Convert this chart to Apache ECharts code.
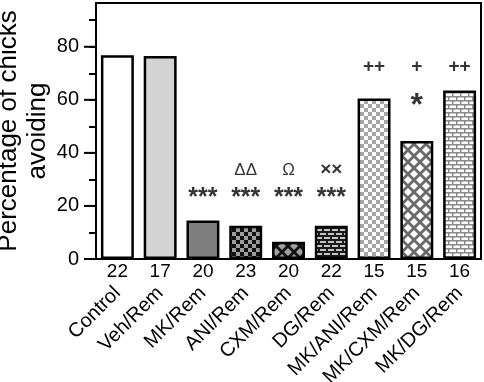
<!DOCTYPE html>
<html><head><meta charset="utf-8">
<script src="https://cdn.jsdelivr.net/npm/echarts@6/dist/echarts.min.js"></script>
<style>html,body{margin:0;padding:0;background:#fff}#c{width:484px;height:382px}</style>
</head><body><div id="c"></div>
<script>
const categories = ['Control','Veh/Rem','MK/Rem','ANI/Rem','CXM/Rem','DG/Rem','MK/ANI/Rem','MK/CXM/Rem','MK/DG/Rem'];
const nValues = ['22','17','20','23','20','22','15','15','16'];
const percentAvoiding = [76.8, 76.5, 14.5, 12.5, 6.5, 12.5, 60.5, 44.5, 63.5];
const yTickLabels = [0, 20, 40, 60, 80];
const yMinorTicks = [0, 10, 20, 30, 40, 50, 60, 70, 80, 90];
// annotations: [category index, y (data units), text, font size, weight]
const annotations = [
  [2, 23.0, '***', 25, 'bold'], [3, 23.0, '***', 25, 'bold'], [4, 23.0, '***', 25, 'bold'], [5, 23.0, '***', 25, 'bold'],
  [3, 33.6, 'ΔΔ', 17, 'normal'], [4, 33.6, 'Ω', 17, 'normal'], [5, 33.6, '××', 19, 'bold'],
  [6, 72.3, '++', 19, 'bold'], [7, 72.3, '+', 19, 'bold'], [8, 72.3, '++', 19, 'bold'],
  [7, 57.5, '*', 32, 'bold']
];

function pat(w, h, draw) {
  const c = document.createElement('canvas'); c.width = w; c.height = h;
  draw(c.getContext('2d')); return { image: c, repeat: 'repeat' };
}
function diamonds(ctx, s, r, color) {
  ctx.fillStyle = color;
  [[0,0],[s,0],[0,s],[s,s],[s/2,s/2]].forEach(([x,y]) => {
    ctx.beginPath(); ctx.moveTo(x, y-r); ctx.lineTo(x+r, y); ctx.lineTo(x, y+r); ctx.lineTo(x-r, y); ctx.closePath(); ctx.fill();
  });
}
const fills = [
  '#ffffff',
  '#d3d3d3',
  '#7f7f7f',
  pat(8, 8, c => { c.fillStyle = '#111'; c.fillRect(0,0,8,8); c.fillStyle = '#9c9c9c'; c.fillRect(0,0,4,4); c.fillRect(4,4,4,4); }),
  pat(12, 12, c => { c.fillStyle = '#111'; c.fillRect(0,0,12,12); diamonds(c, 12, 4, '#a0a0a0'); }),
  pat(8, 8, c => { c.fillStyle = '#1a1a1a'; c.fillRect(0,0,8,8); c.fillStyle = '#c4c4c4'; c.fillRect(0,1,6,2); c.fillRect(4,5,4,2); c.fillRect(0,5,2,2); }),
  pat(8, 8, c => { c.fillStyle = '#ffffff'; c.fillRect(0,0,8,8); c.fillStyle = '#a6a6a6'; c.fillRect(0,0,4,4); c.fillRect(4,4,4,4); }),
  pat(12, 12, c => { c.fillStyle = '#6a6a6a'; c.fillRect(0,0,12,12); diamonds(c, 12, 4, '#ffffff'); }),
  pat(8, 8, c => { c.fillStyle = '#ffffff'; c.fillRect(0,0,8,8); c.fillStyle = '#8a8a8a'; c.fillRect(0,0,8,1.5); c.fillRect(0,4,8,1.5); c.fillRect(0,0,1.5,4); c.fillRect(4,4,1.5,4); })
];

const chart = echarts.init(document.getElementById('c'), null, { renderer: 'canvas' });
const font = 'Liberation Sans, Arial, sans-serif';
chart.setOption({
  animation: false,
  grid: { left: 96, right: 3, top: 3, bottom: 123, containLabel: false, outerBoundsMode: 'none',
    show: true, borderColor: '#000', borderWidth: 2, backgroundColor: 'transparent' },
  xAxis: [
    { type: 'category', data: nValues, gridIndex: 0,
      axisLine: { lineStyle: { color: '#000', width: 2 } }, axisTick: { show: false },
      axisLabel: { color: '#000', fontSize: 19, fontFamily: font, margin: 3, interval: 0 } },
    { type: 'category', data: categories, gridIndex: 0, position: 'bottom',
      axisLine: { show: false }, axisTick: { show: false },
      axisLabel: { color: '#000', fontSize: 20, fontFamily: font, margin: 31, rotate: 45, interval: 0 } }
  ],
  yAxis: {
    type: 'value', min: 0, max: 96.5,
    name: 'Percentage of chicks\navoiding', nameLocation: 'middle', nameGap: 44, nameRotate: 90,
    nameMoveOverlap: false,
    nameTextStyle: { color: '#000', fontSize: 26, fontFamily: font, lineHeight: 29 },
    axisLine: { show: true, lineStyle: { color: '#000', width: 2 } },
    axisTick: { show: true, length: 7, customValues: yMinorTicks, lineStyle: { color: '#000', width: 2 } },
    axisLabel: { color: '#000', fontSize: 20, fontFamily: font, margin: 17, customValues: yTickLabels },
    splitLine: { show: false }
  },
  series: [
    { type: 'bar', xAxisIndex: 0, barWidth: '77%',
      data: percentAvoiding.map((v, i) => ({ value: v, itemStyle: { color: fills[i] } })),
      itemStyle: { borderColor: '#000', borderWidth: 2.5 } },
    { type: 'scatter', xAxisIndex: 0, symbolSize: 0, silent: true,
      data: annotations.map(a => ({ value: [a[0], a[1]], label: { formatter: a[2], fontSize: a[3], fontWeight: a[4] } })),
      label: { show: true, position: 'inside', color: '#000', fontFamily: font } }
  ]
});
// longer major ticks at labelled values
const extra = yTickLabels.map(v => {
  const p = chart.convertToPixel({ yAxisIndex: 0 }, v);
  return { type: 'line', shape: { x1: 84, y1: p, x2: 96, y2: p }, style: { stroke: '#000', lineWidth: 2 } };
});
chart.setOption({ graphic: extra });
</script></body></html>
